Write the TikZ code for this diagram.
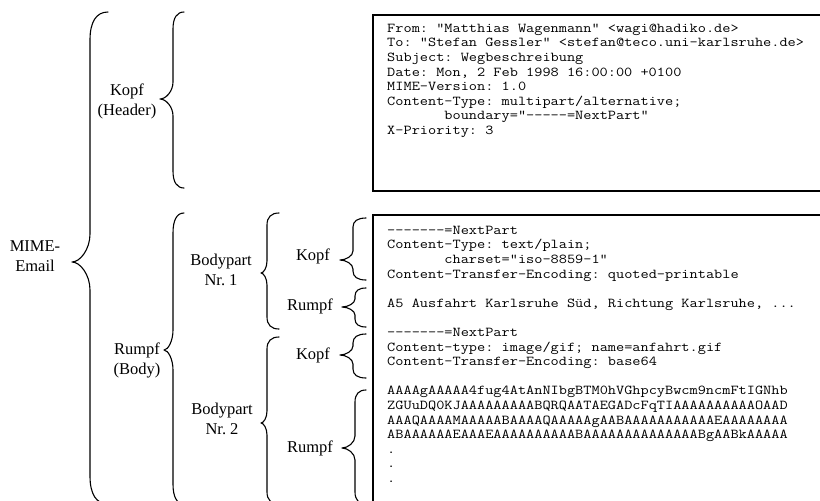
\documentclass[tikz,border=0pt]{standalone}
\usepackage{fontspec}
\setmainfont{Liberation Serif}
% #1 xend, #2 xv, #3 xtip, #4 ytop, #5 ytip, #6 ybot, #7 curl size
\newcommand\curlybrace[7]{%
  \draw[brc] (#1,#4) .. controls ({#2+0.35*(#1-#2)},#4) and (#2,{#4+0.35*#7}) .. (#2,{#4+#7})
    -- (#2,{#5-#7}) .. controls (#2,{#5-0.45*#7}) and ({#3+0.45*(#2-#3)},#5) .. (#3,#5)
    .. controls ({#3+0.45*(#2-#3)},#5) and (#2,{#5+0.45*#7}) .. (#2,{#5+#7})
    -- (#2,{#6-#7}) .. controls (#2,{#6-0.35*#7}) and ({#2+0.35*(#1-#2)},#6) .. (#1,#6);}
\begin{document}
\begin{tikzpicture}[x=1pt,y=-1pt,
  lbl/.style={font=\fontsize{16.5}{20}\selectfont, align=center, inner sep=0pt},
  brc/.style={line width=1.1pt, line join=round, line cap=round},
  boxframe/.style={draw, line width=2.2pt, inner sep=0pt, anchor=north west},
  code/.style={font=\ttfamily\fontsize{13.6}{14.6}\selectfont\frenchspacing, align=left, anchor=north west, inner sep=0pt, transform shape}]
\useasboundingbox (0,0) rectangle (820,501);
\clip (0,0) rectangle (820,501);

% frames
\node[boxframe, minimum width=470pt, minimum height=176pt] (hdrbox) at (372,14) {};
\node[boxframe, minimum width=470pt, minimum height=310pt] (bodybox) at (372,214) {};

% code texts
\begin{scope}[shift={(387,20)}, xscale=1.167]
\node[code] (hdrtext) at (0,0) {\rule{0pt}{12pt}From: "Matthias Wagenmann" <wagi@hadiko.de>\\
To: "Stefan Gessler" <stefan@teco.uni-karlsruhe.de>\\
Subject: Wegbeschreibung\\
Date: Mon, 2 Feb 1998 16:00:00 +0100\\
MIME-Version: 1.0\\
Content-Type: multipart/alternative;\\
\hphantom{0000000}boundary="-----=NextPart"\\
X-Priority: 3};
\end{scope}

\begin{scope}[shift={(387,222)}, xscale=1.167]
\node[code] (bodytext) at (0,0) {\rule{0pt}{12pt}-------=NextPart\\
Content-Type: text/plain;\\
\hphantom{0000000}charset="iso-8859-1"\\
Content-Transfer-Encoding: quoted-printable\\
\\
A5 Ausfahrt Karlsruhe Süd, Richtung Karlsruhe, ...\\
\\
-------=NextPart\\
Content-type: image/gif; name=anfahrt.gif\\
Content-Transfer-Encoding: base64\\
\\
AAAAgAAAAA4fug4AtAnNIbgBTM0hVGhpcyBwcm9ncmFtIGNhb\\
ZGUuDQ0KJ{}AAAAA{}AAAA{}BQRQ{}AATAEGADcFqTI{}AAAAA{}AAAAA{}OAAD\\
AAAQ{}AAAAM{}AAAAAB{}AAAAQ{}AAAAAg{}AAB{}AAAAA{}AAAAA{}A{}E{}AAAAA{}AAA\\
ABAAAAAAE{}AAAE{}AAAAA{}AAAAA{}B{}AAAAA{}AAAAA{}AAAA{}BgAABk{}AAAAA\\
.\\
.\\
.};
\end{scope}

% labels
\node[lbl] (mime) at (35,256) {MIME-\\Email};
\node[lbl] (hdr) at (127,101) {Kopf\\(Header)};
\node[lbl] (body) at (137,360) {Rumpf\\(Body)};
\node[lbl] (bp1) at (221,270) {Bodypart\\Nr.\ 1};
\node[lbl] (bp2) at (222,419) {Bodypart\\Nr.\ 2};
\node[lbl] (k1) at (313,256) {Kopf};
\node[lbl] (r1) at (310,306) {Rumpf};
\node[lbl] (k2) at (313,355) {Kopf};
\node[lbl] (r2) at (310,448) {Rumpf};

% braces
\curlybrace{108}{90}{72}{12}{262}{504}{28}
\curlybrace{184}{173}{160}{12}{99}{188}{17}
\curlybrace{184}{173}{164}{213}{350}{504}{20}
\curlybrace{279}{267}{261}{213}{273}{329}{12}
\curlybrace{279}{267}{261}{337}{423}{504}{12}
\curlybrace{366}{353}{340}{218}{260}{280}{9}
\curlybrace{366}{355}{342}{288}{307}{327}{8}
\curlybrace{366}{353}{340}{334}{355}{378}{9}
\curlybrace{366}{355}{342}{390}{448}{504}{12}
\end{tikzpicture}
\end{document}
